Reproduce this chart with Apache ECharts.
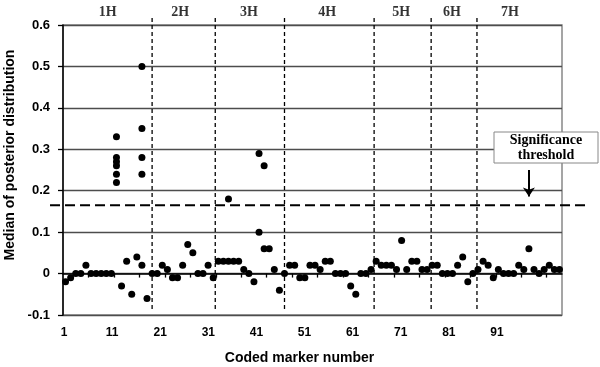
<!DOCTYPE html>
<html>
<head>
<meta charset="utf-8">
<script src="https://cdn.jsdelivr.net/npm/echarts@6/dist/echarts.min.js"></script>
<style>
  html, body { margin: 0; padding: 0; background: #fff; }
  #chart { width: 600px; height: 367px; }
</style>
</head>
<body>
<div id="chart"></div>
<script>
// plot position of each marker and its median of posterior distribution
var markerPos = [1, 2, 3, 4, 5, 6, 7, 8, 9, 10,
  11, 11, 11, 11, 11, 11,
  12, 13, 14, 15,
  16, 16, 16, 16, 16,
  17, 18, 19, 20, 21, 22, 23, 24, 25, 26, 27, 28, 29, 30,
  31, 32, 33, 33, 34, 35, 36, 37, 38,
  39, 39, 40, 40,
  41, 42, 43, 44, 45, 46, 47, 48, 49, 50,
  51, 52, 53, 54, 55, 56, 57, 58, 59, 60,
  61, 62, 63, 64, 65, 66, 67, 68, 69, 70,
  71, 72, 73, 74, 75, 76, 77, 78, 79, 80,
  81, 82, 83, 84, 85, 86, 87, 88, 89, 90,
  91, 92, 93, 94, 95, 96, 97, 98];
var medianVal = [-0.02, -0.01, 0, 0, 0.02, 0, 0, 0, 0, 0,
  0.33, 0.28, 0.27, 0.26, 0.24, 0.22,
  -0.03, 0.03, -0.05, 0.04,
  0.50, 0.35, 0.28, 0.24, 0.02,
  -0.06, 0, 0, 0.02, 0.01, -0.01, -0.01, 0.02, 0.07, 0.05, 0, 0, 0.02, -0.01,
  0.03, 0.03, 0.03, 0.18, 0.03, 0.03, 0.01, 0, -0.02,
  0.10, 0.29, 0.06, 0.26,
  0.06, 0.01, -0.04, 0, 0.02, 0.02, -0.01, -0.01, 0.02, 0.02,
  0.01, 0.03, 0.03, 0, 0, 0, -0.03, -0.05, 0, 0,
  0.01, 0.03, 0.02, 0.02, 0.02, 0.01, 0.08, 0.01, 0.03, 0.03,
  0.01, 0.01, 0.02, 0.02, 0, 0, 0, 0.02, 0.04, -0.02,
  0, 0.01, 0.03, 0.02, -0.01, 0.01, 0, 0, 0, 0.02,
  0.01, 0.06, 0.01, 0, 0.01, 0.02, 0.01, 0.01];

var chromNames = ['1H', '2H', '3H', '4H', '5H', '6H', '7H'];
var chromLabelPos = [9.3, 23.5, 37, 52.4, 66.9, 76.9, 88.3];
var chromBounds = [18, 30.4, 44, 61.6, 72.8, 81.8];
var threshold = 0.165;
var thresholdSpan = [-2.05, 103.6];
var xTickLabels = [1, 11, 21, 31, 41, 51, 61, 71, 81, 91];
var xTicks = [5.5, 10.5, 15.5, 20.5, 25.5, 30.5, 35.5, 40.5, 45.5, 50.5,
  55.5, 60.5, 65.5, 70.5, 75.5, 80.5, 85.5, 90.5, 95.5];

var chart = echarts.init(document.getElementById('chart'));

var boldSans = { fontFamily: '"Liberation Sans", Arial, sans-serif', fontWeight: 'bold', color: '#000' };
var boldSerif = '"Liberation Serif", "Times New Roman", serif';

// draws a dashed segment between two data points, outside the grid too
function segmentItem(dash, width) {
  return function (params, api) {
    var p1 = api.coord([api.value(0), api.value(1)]);
    var p2 = api.coord([api.value(2), api.value(3)]);
    return {
      type: 'line',
      shape: { x1: p1[0], y1: p1[1], x2: p2[0], y2: p2[1] },
      style: { stroke: '#000', lineWidth: width, lineDash: dash }
    };
  };
}

var series = [
  {
    type: 'scatter',
    symbolSize: 7,
    itemStyle: { color: '#000', opacity: 1 },
    data: markerPos.map(function (p, i) {
      return [p, medianVal[i]];
    }),
    z: 5
  },
  {
    // significance threshold
    type: 'custom',
    clip: false,
    renderItem: segmentItem([10, 5], 2),
    data: [[thresholdSpan[0], threshold, thresholdSpan[1], threshold]],
    z: 4
  },
  {
    // chromosome boundaries
    type: 'custom',
    clip: false,
    renderItem: segmentItem([4, 3], 1.3),
    data: chromBounds.map(function (b) {
      return [b, 0.617, b, -0.088];
    }),
    z: 4
  },
  {
    // arrow pointing at the threshold
    type: 'line',
    symbol: 'none',
    lineStyle: { width: 0 },
    data: [],
    markLine: {
      silent: true,
      symbol: ['none', 'arrow'],
      symbolSize: 9,
      label: { show: false },
      lineStyle: { color: '#000', width: 2, type: 'solid' },
      data: [[{ coord: [92, 0.25] }, { coord: [92, 0.186] }]]
    }
  },
  {
    // chromosome names
    type: 'scatter',
    clip: false,
    symbolSize: 0,
    label: {
      show: true,
      position: 'inside',
      formatter: '{b}',
      fontFamily: boldSerif,
      fontWeight: 'bold',
      fontSize: 14,
      color: '#000'
    },
    data: chromNames.map(function (n, i) {
      return { name: n, value: [chromLabelPos[i], 0.631] };
    })
  }
];

var option = {
  animation: false,
  grid: {
    left: 63,
    right: 38,
    top: 25,
    bottom: 52,
    outerBoundsMode: 'none',
    containLabel: false,
    show: true,
    borderColor: '#888',
    borderWidth: 1.5
  },
  xAxis: [
    {
      type: 'value',
      min: 0.5,
      max: 98.5,
      position: 'bottom',
      axisLine: { onZero: true, lineStyle: { color: '#000', width: 1.5 } },
      axisTick: { show: true, customValues: xTicks, length: 4, lineStyle: { color: '#000', width: 1.3 } },
      axisLabel: { show: false },
      splitLine: { show: false }
    },
    {
      type: 'value',
      min: 0.792,
      max: 104.53,
      position: 'bottom',
      axisLine: { show: false, onZero: false },
      axisTick: { show: false },
      axisLabel: Object.assign({ customValues: xTickLabels, margin: 12, fontSize: 12 }, boldSans),
      splitLine: { show: false },
      name: 'Coded marker number',
      nameLocation: 'middle',
      nameGap: 36,
      nameTextStyle: Object.assign({ fontSize: 14, padding: [0, 26, 0, 0] }, boldSans)
    }
  ],
  yAxis: {
    type: 'value',
    min: -0.1,
    max: 0.6,
    interval: 0.1,
    axisLine: { show: true, onZero: false, lineStyle: { color: '#000', width: 1.5 } },
    axisTick: { show: true, length: 5, lineStyle: { color: '#000', width: 1.3 } },
    axisLabel: Object.assign({ margin: 13, fontSize: 13 }, boldSans),
    splitLine: { show: true, lineStyle: { color: '#4d4d4d', width: 1.3 } },
    name: 'Median of posterior distribution',
    nameLocation: 'middle',
    nameGap: 39,
    nameTextStyle: Object.assign({ fontSize: 14, padding: [0, 0, 0, 30] }, boldSans)
  },
  graphic: [
    {
      type: 'rect',
      shape: { x: 494, y: 132, width: 104, height: 31 },
      style: { fill: '#fff', stroke: '#888', lineWidth: 1 },
      z: 10
    },
    {
      type: 'text',
      x: 546,
      y: 147.5,
      style: {
        text: 'Significance\nthreshold',
        align: 'center',
        verticalAlign: 'middle',
        font: 'bold 14px ' + boldSerif,
        lineHeight: 15,
        fill: '#000'
      },
      z: 11
    }
  ],
  series: series
};

chart.setOption(option);
</script>
</body>
</html>
